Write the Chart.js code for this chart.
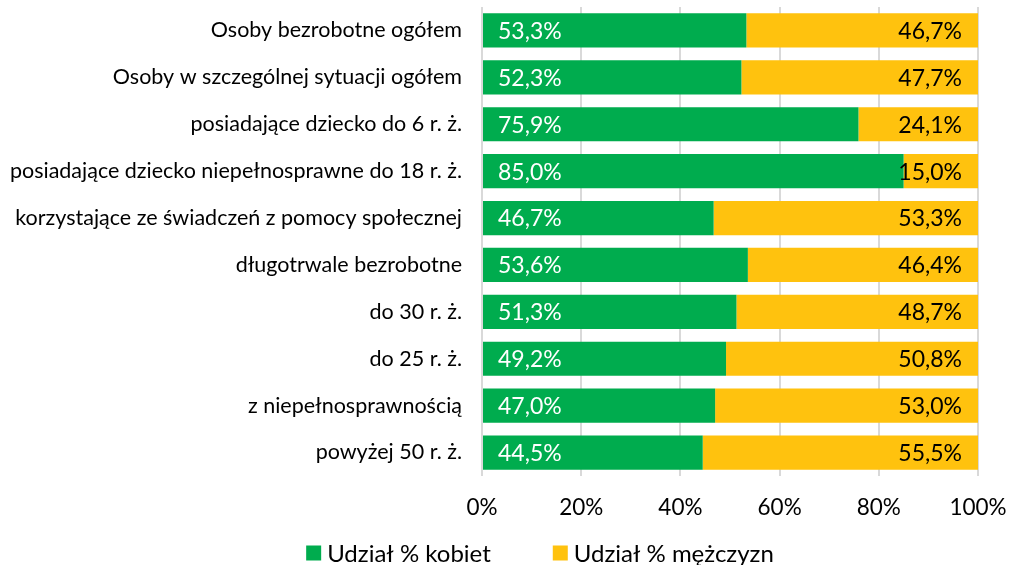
<!DOCTYPE html>
<html>
<head>
<meta charset="utf-8">
<script src="https://cdn.jsdelivr.net/npm/chart.js@4"></script>
<style>
  body { margin: 0; background: #fff; }
  #wrap { width: 1014px; height: 565px; }
</style>
</head>
<body>
<div id="wrap"><canvas id="share-chart" width="1014" height="565"></canvas></div>
<script>
const categories = [
    'Osoby bezrobotne ogółem',
    'Osoby w szczególnej sytuacji ogółem',
    'posiadające dziecko do 6 r. ż.',
    'posiadające dziecko niepełnosprawne do 18 r. ż.',
    'korzystające ze świadczeń z pomocy społecznej',
    'długotrwale bezrobotne',
    'do 30 r. ż.',
    'do 25 r. ż.',
    'z niepełnosprawnością',
    'powyżej 50 r. ż.'
];
const womenShare = [53.3, 52.3, 75.9, 85.0, 46.7, 53.6, 51.3, 49.2, 47.0, 44.5];
const menShare = [46.7, 47.7, 24.1, 15.0, 53.3, 46.4, 48.7, 50.8, 53.0, 55.5];
const seriesNames = ['Udział % kobiet', 'Udział % mężczyzn'];
const seriesColors = ['#00ac4e', '#ffc20e'];
const tickValues = [0, 20, 40, 60, 80, 100];

const fmt = v => v.toFixed(1).replace('.', ',') + '%';

// value labels: women at the start of the bar, men at the end
const barLabels = {
    id: 'barLabels',
    afterDatasetsDraw(chart) {
        const ctx = chart.ctx;
        ctx.save();
        ctx.font = '23px Lato';
        ctx.textBaseline = 'middle';
        chart.data.datasets.forEach((ds, i) => {
            const meta = chart.getDatasetMeta(i);
            meta.data.forEach((bar, j) => {
                const v = ds.data[j];
                if (i === 0) {
                    ctx.fillStyle = '#ffffff';
                    ctx.textAlign = 'left';
                    ctx.fillText(fmt(v), bar.base + 15, bar.y + 1);
                } else {
                    ctx.fillStyle = '#000000';
                    ctx.textAlign = 'right';
                    ctx.fillText(fmt(v), bar.x - 16, bar.y + 1);
                }
            });
        });
        ctx.restore();
    }
};

// legend under the axis, drawn from the datasets
const bottomLegend = {
    id: 'bottomLegend',
    afterDraw(chart) {
        const ctx = chart.ctx;
        const box = 15, gap = 6, spacing = 62;
        const y = 553;
        ctx.save();
        ctx.font = '24px Lato';
        ctx.textBaseline = 'middle';
        ctx.textAlign = 'left';
        const items = chart.data.datasets.map(ds => ({
            text: ds.label,
            color: ds.backgroundColor,
            w: box + gap + ctx.measureText(ds.label).width
        }));
        const total = items.reduce((s, it) => s + it.w, 0) + spacing * (items.length - 1);
        let x = 540 - total / 2;
        items.forEach(it => {
            ctx.fillStyle = it.color;
            ctx.fillRect(x, y - box / 2, box, box);
            ctx.fillStyle = '#000';
            ctx.fillText(it.text, x + box + gap, y + 1);
            x += it.w + spacing;
        });
        ctx.restore();
    }
};

const ctx = document.getElementById('share-chart').getContext('2d');
const chart = new Chart(ctx, {
    type: 'bar',
    data: {
        labels: categories,
        datasets: [{
            label: seriesNames[0],
            data: womenShare,
            backgroundColor: seriesColors[0],
            borderWidth: 0,
            barPercentage: 0.73,
            categoryPercentage: 1
        }, {
            label: seriesNames[1],
            data: menShare,
            backgroundColor: seriesColors[1],
            borderWidth: 0,
            barPercentage: 0.73,
            categoryPercentage: 1
        }]
    },
    options: {
        indexAxis: 'y',
        responsive: false,
        animation: false,
        layout: {
            padding: { top: 7, right: 36, bottom: 45, left: 0 }
        },
        scales: {
            x: {
                stacked: true,
                min: 0,
                max: 100,
                afterBuildTicks: axis => {
                    axis.ticks = tickValues.map(v => ({ value: v }));
                },
                afterFit: axis => {
                    axis.height = 44;
                    axis.paddingLeft = 0;
                    axis.paddingRight = 0;
                },
                ticks: {
                    callback: v => v + '%',
                    color: '#000',
                    font: { family: 'Lato', size: 22.5 },
                    padding: 18
                },
                grid: {
                    color: '#d9d9d9',
                    lineWidth: 2,
                    drawTicks: false
                },
                border: { display: false }
            },
            y: {
                stacked: true,
                afterFit: axis => {
                    axis.width = 482;
                    axis.paddingTop = 0;
                    axis.paddingBottom = 0;
                },
                ticks: {
                    color: '#000',
                    font: { family: 'Lato', size: 21.5 },
                    padding: 20
                },
                grid: { display: false, drawTicks: false },
                border: { display: false }
            }
        },
        plugins: {
            legend: { display: false },
            tooltip: { enabled: false }
        }
    },
    plugins: [barLabels, bottomLegend]
});
</script>
</body>
</html>
